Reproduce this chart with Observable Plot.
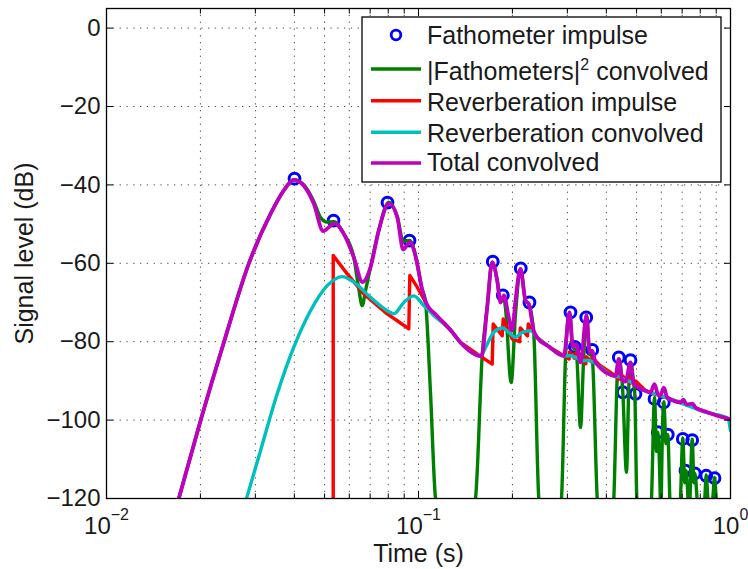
<!DOCTYPE html>
<html>
<head>
<meta charset="utf-8">
<script src="https://cdn.jsdelivr.net/npm/d3@7"></script>
<script src="https://cdn.jsdelivr.net/npm/@observablehq/plot@0.6"></script>
<style>
  html, body { margin: 0; padding: 0; background: #fff; }
  #chart svg { display: block; }
</style>
</head>
<body>
<div id="chart"></div>
<script>
// ---- Data (time in s, level in dB) ----
const fathometerImpulse = [
  [0.04005,-38.4],[0.05341,-49.1],[0.07956,-44.5],[0.09357,-54.2],
  [0.1730,-59.6],[0.1863,-68.2],[0.21273,-61.3],[0.2268,-70.0],
  [0.3070,-72.5],[0.3170,-81.3],[0.3448,-73.8],[0.36041,-82.1],
  [0.43857,-84.0],[0.4517,-92.9],[0.47808,-84.7],[0.4961,-93.3],
  [0.57078,-94.6],[0.58484,-103.1],[0.61132,-95.5],[0.6296,-103.7],
  [0.7033,-104.8],[0.7174,-112.9],[0.7538,-105.1],[0.7684,-113.6],
  [0.8359,-114.2],[0.8887,-114.8]
];

const fathometersConvolved = [
  [0.01705,-120],[0.02001,-100.2],[0.02377,-80.2],[0.02858,-60.1],[0.03355,-47.4],
  [0.03701,-41.4],[0.03984,-38.7],[0.04290,-40.0],[0.04618,-44.2],[0.04852,-48.3],
  [0.05098,-49.5],[0.05353,-49.4],[0.05763,-52.5],[0.06204,-58.5],[0.06436,-66.5],
  [0.06600,-70.8],[0.06763,-67.0],[0.07017,-61.0],[0.07459,-51.6],[0.08033,-44.4],
  [0.08545,-48.0],[0.08932,-54.3],[0.09378,-54.2],[0.09659,-56.3],[0.09926,-60.5],
  [0.10224,-66.0],[0.1053,-69.8],[0.10925,-93.0],[0.11338,-120],[0.13,-140],
  [0.15229,-120],[0.16001,-83.6],[0.16603,-71.2],[0.17227,-59.7],[0.17875,-64.4],
  [0.18316,-69.5],[0.18767,-68.5],[0.19003,-71.5],[0.19819,-90.4],[0.20458,-73.0],
  [0.21226,-61.4],[0.22023,-69.5],[0.22566,-70.4],[0.23413,-78.0],[0.24292,-120],[0.265,-140],
  [0.28728,-120],[0.2959,-84.0],[0.30482,-72.5],[0.31233,-81.4],[0.32026,-82.3],
  [0.33058,-101.9],[0.3380,-85.0],[0.34556,-73.3],[0.3533,-82.7],[0.36041,-84.0],
  [0.37395,-120],[0.40,-140],
  [0.42268,-120],[0.43342,-89.1],[0.43857,-84.4],[0.44971,-90.5],[0.4517,-92.9],
  [0.46416,-113.3],[0.4721,-91.5],[0.47808,-85.3],[0.48986,-91.0],[0.4935,-93.3],
  [0.5008,-120],[0.53,-140],
  [0.55826,-120],[0.57078,-94.2],[0.57927,-108],[0.58484,-103.1],[0.5957,-120],[0.5985,-128],
  [0.60016,-120],[0.61132,-95.3],[0.6213,-106],[0.6296,-103.7],[0.6390,-120],[0.665,-140],
  [0.69146,-120],[0.7033,-104.6],[0.7137,-116],[0.7201,-112.9],[0.7308,-120],[0.736,-126],
  [0.7417,-120],[0.7538,-104.9],[0.7639,-116],[0.7696,-113.6],[0.7810,-120],[0.80,-135],
  [0.8274,-120],[0.8359,-114.0],[0.8458,-120],[0.86,-126],[0.8776,-120],[0.8887,-114.6],
  [0.900,-120],[0.95,-140]
];

const reverberationImpulse = [
  [0.05329,-125],[0.05329,-58.0],[0.05909,-62.7],[0.06678,-67.8],[0.07938,-72.9],
  [0.09309,-76.7],[0.09378,-63.1],[0.09904,-66.1],[0.10925,-72.1],[0.12665,-77.0],
  [0.13631,-80.2],[0.16001,-84.0],[0.17227,-85.7],[0.17354,-75.5],[0.18546,-78.5],
  [0.18683,-74.2],[0.19965,-79.3],[0.2110,-80.0],[0.2120,-76.5],[0.2235,-78.5],
  [0.2248,-75.5],[0.24007,-78.9],[0.26102,-81.2],[0.29226,-83.6],[0.3040,-84.4],
  [0.3050,-82.6],[0.3160,-84.2],[0.3170,-83.0],[0.3440,-85.6],[0.3450,-83.8],
  [0.3595,-85.2],[0.3605,-84.0],[0.3800,-85.9],[0.42802,-88.7],[0.4375,-89.6],
  [0.4385,-88.3],[0.4510,-89.6],[0.4520,-88.8],[0.4770,-90.6],[0.4781,-89.2],
  [0.4955,-90.8],[0.4965,-90.0],[0.53411,-92.5],[0.5700,-93.3],[0.69146,-95.5],
  [0.84212,-98.0],[0.98755,-99.7],[1.0,-99.8]
];

const reverberationConvolved = [
  [0.0281,-120],[0.03116,-107.8],[0.03525,-93.3],[0.03984,-81.4],[0.04507,-72.1],
  [0.05098,-65.7],[0.05695,-63.4],[0.06204,-64.8],[0.07017,-68.7],[0.07938,-72.1],
  [0.08333,-72.9],[0.08972,-70.0],[0.09659,-68.3],[0.10399,-70.8],[0.11197,-73.3],
  [0.12665,-77.0],[0.13631,-80.2],[0.15801,-83.6],[0.16603,-80.6],[0.17431,-77.6],
  [0.18546,-76.5],[0.19471,-77.6],[0.20458,-78.9],[0.21494,-77.6],[0.2285,-77.2],
  [0.24007,-78.9],[0.26102,-81.2],[0.29226,-83.6],[0.3070,-83.6],[0.3186,-84.0],
  [0.3348,-84.8],[0.3515,-84.8],[0.3647,-85.3],[0.42802,-88.9],[0.4385,-88.9],
  [0.4600,-89.9],[0.4781,-90.2],[0.4961,-91.2],[0.53411,-92.6],[0.5708,-93.2],
  [0.6113,-94.0],[0.69146,-95.6],[0.84212,-98.1],[0.9802,-99.5],[1.0,-102.7]
];

const totalConvolved = [
  [0.01705,-120],[0.02001,-100.2],[0.02377,-80.2],[0.02858,-60.1],[0.03355,-47.4],
  [0.03701,-41.4],[0.03984,-38.7],[0.04290,-40.2],[0.04618,-44.8],[0.04950,-51.8],
  [0.05158,-50.8],[0.05380,-49.8],[0.05763,-52.5],[0.06204,-58.5],[0.06615,-64.8],
  [0.07017,-61.0],[0.07459,-51.6],[0.08033,-44.8],[0.08545,-48.2],[0.08932,-56.5],
  [0.09378,-54.6],[0.09659,-56.5],[0.09926,-60.5],[0.10224,-66.0],[0.10608,-70.3],
  [0.11338,-73.0],[0.12665,-77.0],[0.13631,-80.2],[0.15918,-83.7],[0.16603,-71.2],
  [0.17227,-59.7],[0.17875,-64.4],[0.18316,-70.0],[0.18767,-68.2],[0.19471,-73.8],
  [0.19965,-77.2],[0.20458,-69.5],[0.21226,-61.4],[0.22023,-69.5],[0.22566,-70.4],
  [0.23413,-77.2],[0.24007,-78.9],[0.26102,-81.2],[0.29226,-83.6],[0.30482,-72.5],
  [0.31233,-81.4],[0.32026,-80.6],[0.33058,-85.3],[0.34556,-73.3],[0.35330,-82.7],
  [0.36041,-82.3],[0.36929,-85.3],[0.42802,-88.7],[0.43857,-84.4],[0.44971,-89.9],
  [0.46078,-90.2],[0.47808,-85.3],[0.48986,-90.8],[0.53411,-92.5],[0.55417,-92.9],
  [0.57078,-90.8],[0.58484,-93.3],[0.59662,-93.6],[0.61132,-91.7],[0.62684,-94.2],
  [0.69146,-95.5],[0.70695,-94.8],[0.72277,-96.0],[0.75552,-95.8],[0.77243,-96.8],
  [0.84212,-98.0],[0.98755,-99.7],[1.0,-99.8]
];

// ---- Ticks and labels ----
const xMajorTicks = [0.01, 0.1, 1];
const xTickExponents = ["\u22122", "\u22121", "0"];
const xMinorTicks = [0.02,0.03,0.04,0.05,0.06,0.07,0.08,0.09,0.2,0.3,0.4,0.5,0.6,0.7,0.8,0.9];
const xGridValues = [...xMinorTicks.slice(0, 8), 0.1, ...xMinorTicks.slice(8)];
const yTicks = [0, -20, -40, -60, -80, -100, -120];
const yTickLabels = ["0", "\u221220", "\u221240", "\u221260", "\u221280", "\u2212100", "\u2212120"];
const yGridValues = [0, -20, -40, -60, -80, -100];
const xLabel = "Time (s)";
const yLabel = "Signal level (dB)";

const legendEntries = [
  {label: "Fathometer impulse", color: "#0000ff", kind: "circle"},
  {label: "|Fathometers|", sup: "2", rest: " convolved", color: "#008000", kind: "line"},
  {label: "Reverberation impulse", color: "#ff0000", kind: "line"},
  {label: "Reverberation convolved", color: "#00bfbf", kind: "line"},
  {label: "Total convolved", color: "#bf00bf", kind: "line"}
];

const font = "'Liberation Sans', Arial, Helvetica, sans-serif";
const tickStyle = {stroke: "#000", strokeWidth: 1, label: null, tickFormat: () => ""};
const px = d => d[0], py = d => d[1];

const chart = Plot.plot({
  width: 748,
  height: 569,
  marginLeft: 106,
  marginRight: 18,
  marginTop: 8,
  marginBottom: 71,
  style: {fontFamily: font, fontSize: "24px", color: "#1a1a1a", background: "#fff"},
  x: {type: "log", domain: [0.01, 1]},
  y: {domain: [-120, 5]},
  marks: [
    Plot.gridX(xGridValues, {stroke: "#000", strokeOpacity: 0.7, strokeWidth: 1, strokeDasharray: "1.3,5.5"}),
    Plot.gridY(yGridValues, {stroke: "#000", strokeOpacity: 0.7, strokeWidth: 1, strokeDasharray: "1.3,5.5"}),
    Plot.dot(fathometerImpulse, {x: px, y: py, r: 5.4, stroke: "#0000ff", strokeWidth: 3, fill: "none"}),
    Plot.line(fathometersConvolved, {x: px, y: py, stroke: "#008000", strokeWidth: 3.4, curve: "monotone-x", clip: true}),
    Plot.line(reverberationImpulse, {x: px, y: py, stroke: "#ff0000", strokeWidth: 3.4, clip: true}),
    Plot.line(reverberationConvolved, {x: px, y: py, stroke: "#00bfbf", strokeWidth: 3.4, curve: "monotone-x", clip: true}),
    Plot.line(totalConvolved, {x: px, y: py, stroke: "#bf00bf", strokeWidth: 3.8, curve: "monotone-x", clip: true}),
    Plot.frame({stroke: "#000", strokeWidth: 1.3}),
    Plot.axisX(xMajorTicks, {anchor: "bottom", tickSize: 7, dy: -7, ...tickStyle}),
    Plot.axisX(xMinorTicks, {anchor: "bottom", tickSize: 4.5, dy: -4.5, ...tickStyle}),
    Plot.axisX(xMajorTicks, {anchor: "top", tickSize: 7, dy: 7, ...tickStyle}),
    Plot.axisX(xMinorTicks, {anchor: "top", tickSize: 4.5, dy: 4.5, ...tickStyle}),
    Plot.axisY(yTicks, {anchor: "left", tickSize: 7, dx: 7, ...tickStyle}),
    Plot.axisY(yTicks, {anchor: "right", tickSize: 7, dx: -7, ...tickStyle}),
    Plot.axisY(yTicks, {anchor: "left", tickSize: 0, tickPadding: 6, label: null, fontSize: 24,
      tickFormat: d => yTickLabels[yTicks.indexOf(d)]}),
    Plot.axisX(xMajorTicks, {anchor: "bottom", tickSize: 0, tickPadding: 18, label: null, fontSize: 24,
      tickFormat: () => "10"}),
    Plot.text([yLabel], {frameAnchor: "left", dx: -82, rotate: -90, text: d => d,
      textAnchor: "middle", lineAnchor: "middle", fontSize: 25}),
    Plot.text([xLabel], {frameAnchor: "bottom", dy: 55, text: d => d,
      textAnchor: "middle", lineAnchor: "middle", fontSize: 25})
  ]
});

document.getElementById("chart").appendChild(chart);

// ---- superscript exponents on the x tick labels ----
const svg = d3.select(chart);
const xLabelTexts = svg.selectAll('g[aria-label="x-axis tick label"] text')
  .filter(function() { return this.textContent === "10"; });
xLabelTexts.each(function(_, i) {
  const t = d3.select(this);
  t.text(null);
  t.append("tspan").text("10");
  t.append("tspan").attr("dy", -14).attr("font-size", 16).text(xTickExponents[i]);
});

// ---- legend box inside the axes (top-right) ----
const legendBox = {x: 362, y: 17, w: 359, h: 165};
const rowY = [35, 69, 100.7, 132.3, 163];
const baseY = [44, 80, 110.7, 141.7, 170.7];
const lg = svg.append("g")
  .attr("font-family", font).attr("font-size", 25)
  .attr("fill", "#1a1a1a").attr("text-anchor", "start");
lg.append("rect")
  .attr("x", legendBox.x).attr("y", legendBox.y)
  .attr("width", legendBox.w).attr("height", legendBox.h)
  .attr("fill", "#fff").attr("stroke", "#000").attr("stroke-width", 1.3);
legendEntries.forEach((e, i) => {
  const x0 = legendBox.x + 9, x1 = legendBox.x + 59;
  if (e.kind === "circle") {
    lg.append("circle").attr("cx", (x0 + x1) / 2).attr("cy", rowY[i]).attr("r", 4.8)
      .attr("fill", "none").attr("stroke", e.color).attr("stroke-width", 2.8);
  } else {
    lg.append("line").attr("x1", x0).attr("x2", x1).attr("y1", rowY[i]).attr("y2", rowY[i])
      .attr("stroke", e.color).attr("stroke-width", 3.4);
  }
  const t = lg.append("text").attr("x", legendBox.x + 65).attr("y", baseY[i]).attr("text-anchor", "start");
  t.append("tspan").text(e.label);
  if (e.sup) {
    t.append("tspan").attr("dy", -10).attr("font-size", 16).text(e.sup);
    t.append("tspan").attr("dy", 10).attr("font-size", 25).text(e.rest);
  }
});
</script>
</body>
</html>
